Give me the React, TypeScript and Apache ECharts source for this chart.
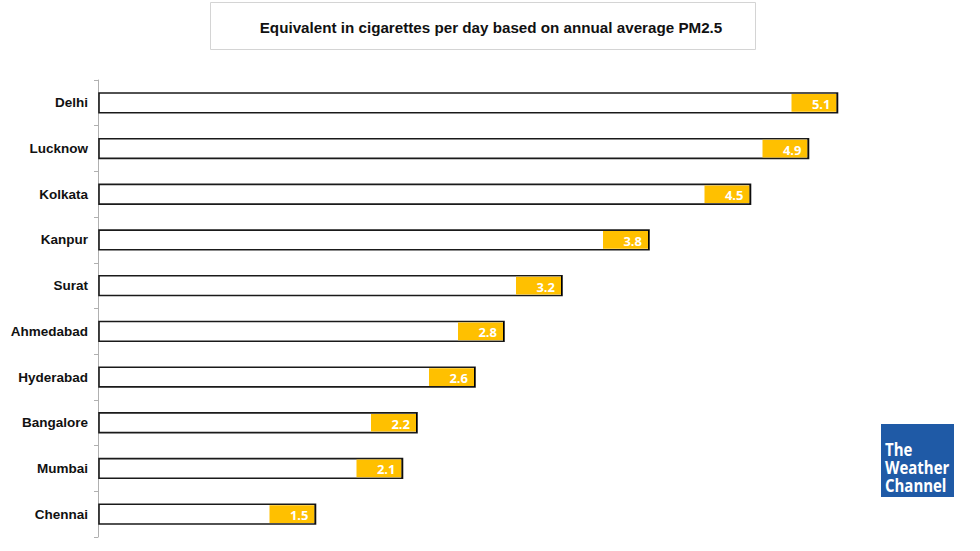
import React, { useEffect, useRef } from "react";
import * as echarts from "echarts";

const cities = ["Delhi", "Lucknow", "Kolkata", "Kanpur", "Surat", "Ahmedabad", "Hyderabad", "Bangalore", "Mumbai", "Chennai"];
const cigarettes = [5.1, 4.9, 4.5, 3.8, 3.2, 2.8, 2.6, 2.2, 2.1, 1.5];
const titleText = "Equivalent in cigarettes per day based on annual average PM2.5";

export default function App() {
  const ref = useRef<HTMLDivElement>(null);
  useEffect(() => {
    if (!ref.current) return;
    const chart = echarts.init(ref.current, null, { renderer: "svg" });
    chart.setOption({
      animation: false,
      backgroundColor: "#ffffff",
      grid: { left: 98, top: 80, width: 870, height: 457 },
      xAxis: { type: "value", min: 0, max: 6, show: false },
      yAxis: {
        type: "category",
        data: cities,
        inverse: true,
        axisLine: { show: true, lineStyle: { color: "#b0b0b0", width: 1 } },
        axisTick: { show: true, length: 4, lineStyle: { color: "#b0b0b0" } },
        axisLabel: {
          color: "#111",
          fontFamily: "'Liberation Sans', Arial, sans-serif",
          fontWeight: "bold",
          fontSize: 13.5,
          margin: 10,
        },
      },
      graphic: [
        {
          type: "rect",
          shape: { x: 210.5, y: 2.5, width: 545, height: 47 },
          style: { fill: "#fff", stroke: "#d4d4d4", lineWidth: 1 },
        },
        {
          type: "text",
          x: 491,
          y: 27,
          style: {
            text: titleText,
            fill: "#111",
            font: "bold 15.2px 'Liberation Sans', Arial, sans-serif",
            align: "center",
            verticalAlign: "middle",
          },
        },
        {
          type: "rect",
          shape: { x: 881, y: 424, width: 73, height: 73 },
          style: { fill: "#1f5aa6" },
        },
        {
          type: "text",
          x: 885,
          y: 468,
          scaleX: 0.88,
          style: {
            text: "The\nWeather\nChannel",
            fill: "#fff",
            font: "bold 17px 'Open Sans', 'DejaVu Sans', sans-serif",
            lineHeight: 18,
            align: "left",
            verticalAlign: "middle",
          },
        },
      ],
      series: [
        {
          type: "custom",
          data: cigarettes.map((v, i) => [v, i]),
          encode: { x: 0, y: 1 },
          renderItem: (params: any, api: any) => {
            const v = api.value(0);
            const idx = api.value(1);
            const end = api.coord([v, idx]);
            const start = api.coord([0, idx]);
            const band = api.size([0, 1])[1];
            const h = band * 0.43;
            const y = end[1] - h / 2;
            const tipW = 46;
            return {
              type: "group",
              children: [
                {
                  type: "rect",
                  shape: { x: start[0] + 1, y, width: end[0] - start[0] - 1, height: h },
                  style: { fill: "#fff", stroke: "#1a1a1a", lineWidth: 1.6 },
                },
                {
                  type: "rect",
                  shape: { x: end[0] - tipW, y: y + 1, width: tipW - 1, height: h - 2 },
                  style: { fill: "#FFC000" },
                },
                {
                  type: "rect",
                  shape: { x: end[0] - 1, y, width: 1, height: h },
                  style: { fill: "#000" },
                },
                {
                  type: "text",
                  x: end[0] - 7,
                  y: end[1] + 1,
                  style: {
                    text: v.toFixed(1),
                    fill: "#fff",
                    font: "bold 13px 'Open Sans', 'DejaVu Sans', sans-serif",
                    align: "right",
                    verticalAlign: "middle",
                  },
                },
              ],
            };
          },
        },
      ],
    });
    return () => chart.dispose();
  }, []);
  return <div ref={ref} style={{ position: "fixed", left: 0, top: 0, width: 980, height: 551 }} />;
}
